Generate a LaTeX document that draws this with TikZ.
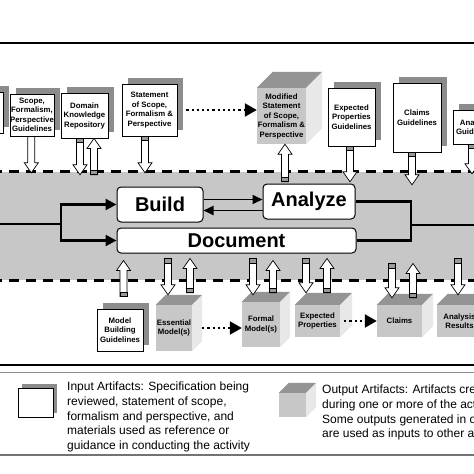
\documentclass[tikz,border=0pt]{standalone}
\usepackage{fontspec}
\setmainfont{Liberation Sans}
\usetikzlibrary{positioning, calc, shadows, arrows.meta}

\newcommand\arttxt{\bfseries\fontsize{7.8}{9.5}\selectfont}
\newcommand\acttxt{\bfseries\fontsize{20}{22}\selectfont}

% output artifact: name, centre of front face, width, height, depth, text
\newcommand\outcube[6]{%
    \node[cubefront, minimum width=#3, minimum height=#4] (#1) at #2 {#6};
    \fill[cubetop] (#1.north west) -- ++(#5,-#5) -- ($(#1.north east)+(#5,-#5)$) -- (#1.north east) -- cycle;
    \fill[cubeside] (#1.north east) -- ++(#5,-#5) -- ($(#1.south east)+(#5,-#5)$) -- (#1.south east) -- cycle;
}
% hollow arrow: [cap]{tail}{tip}
\newcommand\blockarrow[3][capped]{%
    \coordinate (bat) at (#2);
    \coordinate (bah) at (#3);
    \draw[blk] let \p1=(bat), \p2=(bah), \p3=($(bah)!10pt!(bat)$) in
        (\x1-3.5pt,\y1) -- (\x1-3.5pt,\y3) -- (\x1-7pt,\y3) -- (\x1,\y2)
        -- (\x1+7pt,\y3) -- (\x1+3.5pt,\y3) -- (\x1+3.5pt,\y1) -- cycle;
    \path[#1] let \p1=(bat), \p4=($(bat)!4.5pt!(bah)$) in
        (\x1-3.5pt,\y1) rectangle (\x1+3.5pt,\y4);
}

\begin{document}
\begin{tikzpicture}[x=1pt, y=-1pt,
        inart/.style={draw, fill=white, line width=0.8pt, inner sep=0pt, align=center, font=\arttxt,
            general shadow={fill=black!45, shadow xshift=#1, shadow yshift=#1}},
        inart/.default=6pt,
        cubefront/.style={fill=black!22, inner sep=0pt, align=center, font=\arttxt},
        cubetop/.style={fill=black!42},
        cubeside/.style={fill=black!9},
        act/.style={draw, fill=white, rounded corners=4pt, line width=1pt, inner sep=0pt, font=\acttxt},
        flow/.style={line width=2.4pt},
        into/.style={-{Triangle[length=11pt, width=11pt]}},
        swap/.style={line width=1.8pt, -{Triangle[length=10pt, width=9pt]}},
        dotarr/.style={line width=2.2pt, dash pattern=on 2.2pt off 3pt, -{Triangle[length=12pt, width=13pt]}},
        blk/.style={draw, fill=white, line width=0.7pt},
        capped/.style={draw, fill=black!40, line width=0.9pt},
        nocap/.style={},
        bandline/.style={line width=3pt, dash pattern=on 10pt off 7pt},
        legtxt/.style={inner sep=0pt, align=left, anchor=north west, font=\fontsize{12}{14.6}\selectfont}
    ]
    \useasboundingbox (0,0) rectangle (474,474);
    \clip (0,0) rectangle (474,474);
    \fill[white] (0,0) rectangle (474,474);

    % frame
    \draw[line width=2pt] (0,43) -- (474,43);
    \draw[line width=2pt] (0,365) -- (474,365);
    \draw[black!45, line width=0.8pt] (0,372) -- (474,372);
    \draw[black!55, line width=2pt] (0,455) -- (474,455);

    % activity band
    \node[fill=black!22, minimum width=490pt, minimum height=108pt, inner sep=0pt] (band) at (237,226) {};
    \draw[bandline] (band.north west) -- (band.north east);
    \draw[bandline] (band.south west) -- (band.south east);

    \node[act, minimum width=86pt, minimum height=35pt] (bld) at (160,204.5) {Build};
    \node[act, minimum width=92pt, minimum height=35pt] (ana) at (309,201.5) {Analyze};
    \node[act, minimum width=239pt, minimum height=25pt] (doc) at (236.5,240.5) {Document};

    \coordinate (lin) at (-5,224);
    \coordinate (jl) at (61,224);
    \coordinate (jr) at (411,225);
    \coordinate (rout) at (480,225);
    \draw[flow] (lin) -- (jl);
    \draw[flow, into] (jl |- doc.west) -- (jl |- bld.west) -- (bld.west);
    \draw[flow, into] ([xshift=-1.2pt]jl |- doc.west) -- (doc.west);
    \draw[flow] (ana.east) -- (jr |- ana.east) -- (jr |- doc.east) -- (doc.east);
    \draw[flow] (jr) -- (rout);
    \draw[swap] ([yshift=5pt]bld.east) -- ([yshift=5pt]bld.east -| ana.west);
    \draw[swap] ([yshift=-9pt]ana.west) -- ([yshift=-9pt]ana.west -| bld.east);

    % input artifacts (top)
    \node[inart, minimum width=43pt, minimum height=41pt] (lft) at (-18.5,112.5) {};
    \node[inart, minimum width=44pt, minimum height=42pt] (scp) at (32,115) {Scope,\\Formalism,\\Perspective\\Guidelines};
    \node[inart, minimum width=47pt, minimum height=45pt] (dkr) at (84.5,115.5) {Domain\\Knowledge\\Repository};
    \node[inart, minimum width=55pt, minimum height=52pt] (stm) at (149.5,110) {Statement\\of Scope,\\Formalism \&\\Perspective};
    \outcube{mod}{(281.5,116)}{49pt}{56pt}{16}{Modified\\Statement\\of Scope,\\Formalism \&\\Perspective}
    \node[inart, minimum width=47pt, minimum height=58pt] (exg) at (351.5,117) {Expected\\Properties\\Guidelines};
    \node[inart, minimum width=48pt, minimum height=69pt] (clg) at (417,117.5) {Claims\\Guidelines};
    \node[inart, minimum width=46pt, minimum height=34pt] (ang) at (476,127) {Analysis\\Guidelines};

    % artifacts below
    \node[inart, minimum width=46pt, minimum height=42pt] (mbg) at (120,330) {Model\\Building\\Guidelines};
    \outcube{ess}{(174,328)}{36pt}{46pt}{10}{Essential\\Model(s)}
    \outcube{frm}{(261,324.5)}{38pt}{45pt}{10}{Formal\\Model(s)}
    \outcube{epr}{(317.5,321)}{45pt}{32pt}{12}{Expected\\Properties}
    \outcube{clm}{(399.5,321)}{45pt}{32pt}{11}{Claims}
    \outcube{ars}{(459.5,321)}{45pt}{32pt}{11}{Analysis\\Results}

    \draw[dotarr] ([xshift=9pt]stm.east) -- (stm.east -| mod.west);
    \draw[dotarr] ([xshift=10pt]ess.east) -- (ess.east -| frm.west);
    \draw[dotarr] ([xshift=4pt]epr.east) -- (epr.east -| clm.west);

    % arrows into / out of the band
    \blockarrow[nocap]{$(scp.south)+(-0.7,0)$}{$(scp.south |- band.north)+(-0.7,1)$}
    \blockarrow{$(dkr.south)+(-4.5,0)$}{$(dkr.south |- band.north)+(-4.5,3)$}
    \blockarrow{$(dkr.south |- band.north)+(9.5,3)$}{$(dkr.south)+(9.5,0)$}
    \blockarrow{$(stm.south)+(-4.5,0)$}{$(stm.south |- band.north)+(-4.5,1)$}
    \blockarrow{$(mod.south |- band.north)+(3.5,10)$}{$(mod.south)+(3.5,0)$}
    \blockarrow{$(exg.south)+(-1.5,0)$}{$(exg.south |- band.north)+(-1.5,10)$}
    \blockarrow{$(clg.south)+(-5,0)$}{$(clg.south |- band.north)+(-5,13)$}
    \blockarrow{$(ang.south)+(-4,0)$}{$(ang.south |- band.north)+(-4,2)$}

    \blockarrow{$(mbg.north)+(3.5,-12)$}{$(mbg.north |- doc.south)+(3.5,7)$}
    \blockarrow{$(ess.north |- doc.south)+(-6,5)$}{$(ess.north)+(-6,-10)$}
    \blockarrow{$(ess.north)+(16,-12)$}{$(ess.north |- doc.south)+(16,5)$}
    \blockarrow{$(frm.north |- doc.south)+(-8,5)$}{$(frm.north)+(-8,-7)$}
    \blockarrow{$(frm.north)+(12,-9)$}{$(frm.north |- doc.south)+(12,7)$}
    \blockarrow{$(epr.north |- doc.south)+(-11.5,5)$}{$(epr.north)+(-11.5,-12)$}
    \blockarrow{$(epr.north)+(9.5,-12)$}{$(epr.north |- doc.south)+(9.5,5)$}
    \blockarrow{$(clm.north |- doc.south)+(-7.5,10)$}{$(clm.north)+(-7.5,-7)$}
    \blockarrow{$(clm.north)+(13.5,-7)$}{$(clm.north |- doc.south)+(13.5,10)$}
    \blockarrow{$(ars.north |- doc.south)+(-1.5,5)$}{$(ars.north)+(-1.5,-10)$}

    % legend
    \node[inart=4pt, minimum width=35pt, minimum height=29pt] (kin) at (35.5,402.5) {};
    \node[legtxt] (kint) at (67,382) {Input Artifacts: Specification being\\reviewed, statement of scope,\\formalism and perspective, and\\materials used as reference or\\guidance in conducting the activity};
    \outcube{kout}{(292.5,405)}{27pt}{24pt}{10}{}
    \node[legtxt] (koutt) at (322,385) {Output Artifacts: Artifacts created\\during one or more of the activities.\\Some outputs generated in one activity\\are used as inputs to other activities.};
\end{tikzpicture}
\end{document}
